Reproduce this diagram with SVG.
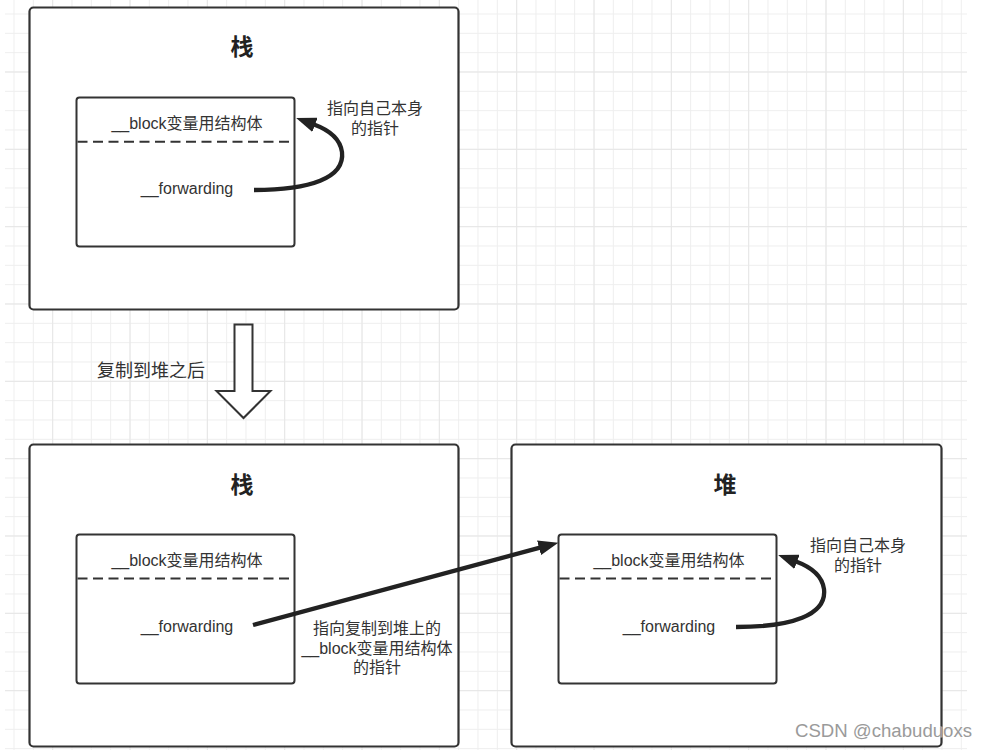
<svg xmlns="http://www.w3.org/2000/svg" width="988" height="750" viewBox="0 0 988 750">
<style>
.outer{fill:#fff;stroke:#333;stroke-width:2.2}
.inner{fill:#fff;stroke:#333;stroke-width:2}
.dash{stroke:#333;stroke-width:2;stroke-dasharray:10 5.5;fill:none}
.t{font-family:"Liberation Sans","Noto Sans CJK SC",sans-serif;font-size:16px;fill:#333;text-anchor:middle}
.title{font-family:"Noto Sans CJK SC",sans-serif;font-size:23px;font-weight:bold;fill:#222;text-anchor:middle}
.conn{fill:none;stroke:#222;stroke-width:4.3}
</style>
<defs>
<pattern id="minor" patternUnits="userSpaceOnUse" x="13.5" y="13.5" width="19.333" height="19.333">
<path d="M0.5 0V19.333M0 0.5H19.333" stroke="#eeeeee" stroke-width="1" fill="none"/>
</pattern>
<pattern id="major" patternUnits="userSpaceOnUse" x="52.2" y="71.5" width="77.333" height="77.333">
<path d="M0.5 0V77.333M0 0.5H77.333" stroke="#e6e6e6" stroke-width="1" fill="none"/>
</pattern>
<marker id="arr" markerUnits="userSpaceOnUse" viewBox="0 -7.5 20 15" refX="1" refY="0" markerWidth="20" markerHeight="15" orient="auto">
<path d="M0,-7.5 L20,0 L0,7.5 z" fill="#222"/>
</marker>
</defs>
<rect x="0" y="0" width="988" height="750" fill="#fff"/>
<rect x="5" y="0" width="962" height="750" fill="url(#minor)"/>
<rect x="5" y="0" width="962" height="750" fill="url(#major)"/>

<g id="stack-top">
<rect class="outer" x="29.5" y="7.5" width="429" height="302" rx="4"/>
<text class="title" x="242" y="55">栈</text>
</g>
<g id="struct-top">
<rect class="inner" x="76.5" y="97.5" width="218" height="149" rx="3"/>
<line class="dash" x1="77.5" y1="141.7" x2="293.5" y2="141.7"/>
<text class="t" x="187" y="129">__block变量用结构体</text>
<text class="t" x="187" y="194">__forwarding</text>
</g>
<g id="label-top">
<text class="t" x="375" y="114">指向自己本身</text>
<text class="t" x="375" y="133.5">的指针</text>
</g>

<g id="copy-arrow">
<polygon points="234.5,324.5 252.5,324.5 252.5,391 270.5,391 243.5,418 216.5,391 234.5,391" fill="#fff" stroke="#333" stroke-width="2" stroke-linejoin="miter"/>
<text class="t" x="151" y="377" style="font-size:18px">复制到堆之后</text>
</g>

<g id="stack-bottom">
<rect class="outer" x="29.5" y="444.5" width="429" height="302" rx="4"/>
<text class="title" x="242" y="493">栈</text>
</g>
<g id="struct-stack">
<rect class="inner" x="76.5" y="534.5" width="218" height="149" rx="3"/>
<line class="dash" x1="77.5" y1="578.5" x2="293.5" y2="578.5"/>
<text class="t" x="187" y="566">__block变量用结构体</text>
<text class="t" x="187" y="631.5">__forwarding</text>
</g>

<g id="heap">
<rect class="outer" x="511.5" y="444.5" width="430" height="302" rx="4"/>
<text class="title" x="725" y="493">堆</text>
</g>
<g id="struct-heap">
<rect class="inner" x="558.5" y="534.5" width="218" height="149" rx="3"/>
<line class="dash" x1="559.5" y1="578.5" x2="775.5" y2="578.5"/>
<text class="t" x="669" y="566">__block变量用结构体</text>
<text class="t" x="669" y="631.5">__forwarding</text>
</g>
<g id="label-heap">
<text class="t" x="858" y="551">指向自己本身</text>
<text class="t" x="858" y="570.5">的指针</text>
</g>

<g id="label-mid">
<text class="t" x="377" y="634">指向复制到堆上的</text>
<text class="t" x="377" y="653.5">__block变量用结构体</text>
<text class="t" x="377" y="673">的指针</text>
</g>

<g id="connectors">
<path class="conn" d="M254 190 C310 190 345 178 342 152 C340 138 329 130 314 124.5" marker-end="url(#arr)"/>
<path class="conn" d="M736 627 C792 627 827 615 824 589 C822 575 811 567 796 561.5" marker-end="url(#arr)"/>
<path class="conn" d="M253 625 L540 547.6" marker-end="url(#arr)"/>
</g>

<text x="795" y="737" textLength="177" lengthAdjust="spacingAndGlyphs" style="font-family:'Liberation Sans',sans-serif;font-size:18px;fill:#9a9a9a;stroke:#fff;stroke-width:0.6;paint-order:stroke">CSDN @chabuduoxs</text>
</svg>
